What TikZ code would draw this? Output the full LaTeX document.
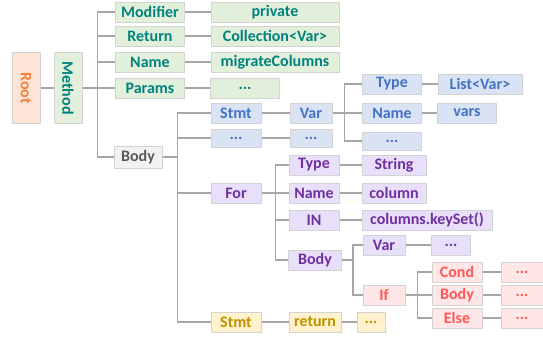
\documentclass[tikz,border=0pt]{standalone}
\usepackage{fontspec}
\setmainfont{Carlito}[BoldFont={Carlito Bold}]
\usetikzlibrary{positioning}

\definecolor{rootfill}{HTML}{FCE4D6}
\definecolor{roottext}{HTML}{F4823C}
\definecolor{gfill}{HTML}{E2EFDA}
\definecolor{gtext}{HTML}{00837C}
\definecolor{grfill}{HTML}{F2F2F2}
\definecolor{grtext}{HTML}{595959}
\definecolor{bfill}{HTML}{DAE3F3}
\definecolor{btext}{HTML}{4472C4}
\definecolor{pfill}{HTML}{E8E0FA}
\definecolor{ptext}{HTML}{7030A0}
\definecolor{rfill}{HTML}{FFE7E7}
\definecolor{rtext}{HTML}{FF5757}
\definecolor{yfill}{HTML}{FFF2CC}
\definecolor{ytext}{HTML}{BF9000}
\definecolor{boxline}{HTML}{D3D3D3}
\definecolor{wire}{HTML}{A6A6A6}

\begin{document}
\begin{tikzpicture}[x=1pt, y=-1pt]
                \tikzstyle{box} = [rectangle, draw=boxline, line width=1pt, inner sep=0pt, minimum height=20pt, font=\bfseries\fontsize{16}{18}\selectfont]
                \tikzstyle{grn} = [box, fill=gfill, text=gtext]
                \tikzstyle{gry} = [box, fill=grfill, text=grtext]
                \tikzstyle{blu} = [box, fill=bfill, text=btext]
                \tikzstyle{prp} = [box, fill=pfill, text=ptext]
                \tikzstyle{red} = [box, fill=rfill, text=rtext]
                \tikzstyle{ylw} = [box, fill=yfill, text=ytext]
                \tikzstyle{conn} = [draw=wire, line width=1.1pt]

                \useasboundingbox (0,0) rectangle (543,338);

                % Root and method
                \node[box, fill=rootfill, text=roottext, minimum width=28pt, minimum height=71pt] (root) at (26,88) {\rotatebox{-90}{Root}};
                \node[grn, minimum width=28pt, minimum height=71pt] (meth) at (68,88) {\rotatebox{-90}{Method}};

                % Method children
                \node[grn, minimum width=69pt] (mod) at (150,12) {Modifier};
                \node[grn, minimum width=69pt] (ret) at (150,36) {Return};
                \node[grn, minimum width=69pt] (nam) at (150,62) {Name};
                \node[grn, minimum width=69pt] (par) at (150,88) {Params};
                \node[gry, minimum width=48pt, minimum height=22pt] (body) at (138,157) {Body};

                % Method values
                \node[grn, minimum width=128pt] (mod_v) at (275,12) {private};
                \node[grn, minimum width=128pt] (ret_v) at (275,36) {Collection<Var>};
                \node[grn, minimum width=128pt] (nam_v) at (275,62) {migrateColumns};
                \node[grn, minimum width=69pt] (par_v) at (245,88) {...};

                % Body statements
                \node[blu, minimum width=50pt] (stmt) at (236,113) {Stmt};
                \node[blu, minimum width=50pt, minimum height=18pt] (dots_s) at (236,138) {...};
                \node[prp, minimum width=50pt] (for) at (236,193) {For};
                \node[ylw, minimum width=50pt] (rstmt) at (236,322) {Stmt};

                % Var declaration
                \node[blu, minimum width=42pt] (var) at (311,113) {Var};
                \node[blu, minimum width=42pt, minimum height=18pt] (dots_v) at (311,138) {...};
                \node[blu, minimum width=59pt] (vtype) at (392,84) {Type};
                \node[blu, minimum width=84pt] (vtype_v) at (480,84) {List<Var>};
                \node[blu, minimum width=59pt] (vname) at (392,113) {Name};
                \node[blu, minimum width=59pt] (vname_v) at (467,113) {vars};
                \node[blu, minimum width=59pt, minimum height=18pt] (vmore) at (392,141) {...};

                % For loop
                \node[prp, minimum width=50pt] (ftype) at (314,165) {Type};
                \node[prp, minimum width=64pt] (ftype_v) at (394,165) {String};
                \node[prp, minimum width=50pt] (fname) at (314,193) {Name};
                \node[prp, minimum width=64pt] (fname_v) at (394,193) {column};
                \node[prp, minimum width=50pt] (fin) at (314,220) {IN};
                \node[prp, minimum width=130pt] (fin_v) at (427,220) {columns.keySet()};
                \node[prp, minimum width=53pt] (fbody) at (315,260) {Body};
                \node[prp, minimum width=42pt] (fvar) at (384,245) {Var};
                \node[prp, minimum width=39pt] (fvar_v) at (451,245) {...};

                % If
                \node[red, minimum width=42pt] (fif) at (384,295) {If};
                \node[red, minimum width=50pt] (cond) at (457,272) {Cond};
                \node[red, minimum width=50pt] (ibody) at (457,295) {Body};
                \node[red, minimum width=50pt] (ielse) at (457,318) {Else};
                \node[red, minimum width=42pt] (cond_v) at (522,272) {...};
                \node[red, minimum width=42pt] (ibody_v) at (522,295) {...};
                \node[red, minimum width=42pt] (ielse_v) at (522,318) {...};

                % Return
                \node[ylw, minimum width=52pt] (ret_s) at (315,322) {return};
                \node[ylw, minimum width=28pt] (ret_d) at (371,322) {...};

                % Straight links
                \draw[conn] (root) -- (meth);
                \draw[conn] (mod) -- (mod_v);
                \draw[conn] (ret) -- (ret_v);
                \draw[conn] (nam) -- (nam_v);
                \draw[conn] (par) -- (par_v);
                \draw[conn] (stmt) -- (var);
                \draw[conn] (dots_s) -- (dots_v);
                \draw[conn] (vtype) -- (vtype_v);
                \draw[conn] (vname) -- (vname_v);
                \draw[conn] (ftype) -- (ftype_v);
                \draw[conn] (fname) -- (fname_v);
                \draw[conn] (fin) -- (fin_v);
                \draw[conn] (fvar) -- (fvar_v);
                \draw[conn] (cond) -- (cond_v);
                \draw[conn] (ibody) -- (ibody_v);
                \draw[conn] (ielse) -- (ielse_v);
                \draw[conn] (rstmt) -- (ret_s);
                \draw[conn] (ret_s) -- (ret_d);

                % Elbow links
                \foreach \c in {mod, ret, nam, par, body}
                    \draw[conn] (meth.east) -- ++(15,0) |- (\c);
                \foreach \c in {stmt, dots_s, for, rstmt}
                    \draw[conn] (body.east) -- ++(15,0) |- (\c);
                \foreach \c in {vtype, vname, vmore}
                    \draw[conn] (var.east) -- ++(12,0) |- (\c);
                \foreach \c in {ftype, fname, fin, fbody}
                    \draw[conn] (for.east) -- ++(14,0) |- (\c);
                \foreach \c in {fvar, fif}
                    \draw[conn] (fbody.east) -- ++(11,0) |- (\c);
                \foreach \c in {cond, ibody, ielse}
                    \draw[conn] (fif.east) -- ++(12,0) |- (\c);
            \end{tikzpicture}
\end{document}
